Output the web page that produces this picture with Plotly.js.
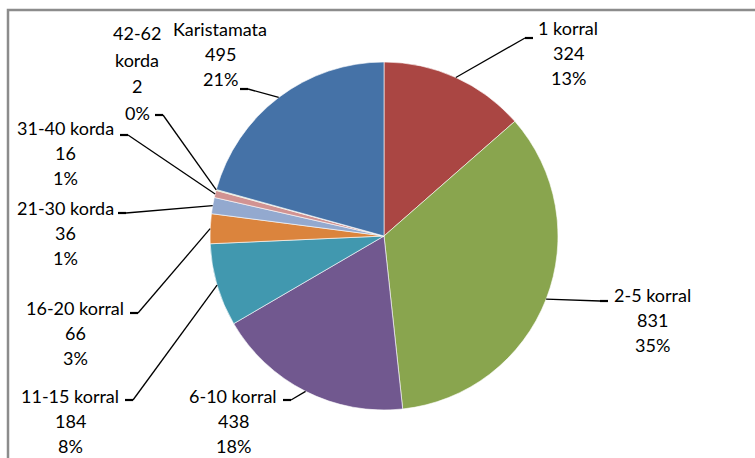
<!DOCTYPE html>
<html>
<head>
<meta charset="utf-8">
<script src="https://cdn.plot.ly/plotly-3.0.1.min.js"></script>
<style>
  html, body { margin: 0; padding: 0; background: #ffffff; }
  #chart { width: 755px; height: 458px; }
</style>
</head>
<body>
<div id="chart"></div>
<script>
// ---- data ----
const labels = ['1 korral', '2-5 korral', '6-10 korral', '11-15 korral', '16-20 korral', '21-30 korda', '31-40 korda', '42-62 korda', 'Karistamata'];
const values = [324, 831, 438, 184, 66, 36, 16, 2, 495];
const percents = ['13%', '35%', '18%', '8%', '3%', '1%', '1%', '0%', '21%'];
const colors = ['#AA4643', '#89A54E', '#71588F', '#4198AF', '#DB843D', '#93A9CF', '#D19392', '#B9CD96', '#4572A7'];

// ---- layout constants (pixels) ----
const W = 755, H = 458;
const CX = 384, CY = 236, R = 174;
const FONT = 'Lato, "Open Sans", sans-serif';
const FS = 18, LINE = 25;

// label text block: x = centre of text, y = centre of first line; lx,ly = leader start
const labelPos = [
  {x: 568, y: 28,  lx: 533, ly: 38,  wrap: false},
  {x: 652, y: 295, lx: 608, ly: 301, wrap: false},
  {x: 233, y: 396, lx: 283, ly: 400, wrap: false},
  {x: 70,  y: 396, lx: 125, ly: 400, wrap: false},
  {x: 75,  y: 308, lx: 130, ly: 313, wrap: false},
  {x: 65,  y: 208, lx: 118, ly: 213, wrap: false},
  {x: 65,  y: 128, lx: 120, ly: 135, wrap: false},
  {x: 137, y: 33,  lx: 155, ly: 115, wrap: true},
  {x: 220, y: 29,  lx: 240, ly: 89,  wrap: false}
];

const px = x => x / W;
const py = y => 1 - y / H;

const total = values.reduce((a, b) => a + b, 0);

const annotations = [];
const shapes = [];

// frame
shapes.push({type: 'rect', xref: 'paper', yref: 'paper', x0: px(8), x1: px(762), y0: py(470), y1: py(10),
  line: {color: '#8c8c8c', width: 2.5}, fillcolor: 'rgba(0,0,0,0)', layer: 'below'});

let cum = 0;
labels.forEach((name, i) => {
  const mid = (cum + values[i] / 2) / total * 2 * Math.PI;
  cum += values[i];
  const ex = CX + R * Math.sin(mid);
  const ey = CY - R * Math.cos(mid);
  const p = labelPos[i];
  const lines = p.wrap ? name.split(' ').concat([String(values[i]), percents[i]])
                       : [name, String(values[i]), percents[i]];
  lines.forEach((t, k) => {
    annotations.push({
      xref: 'paper', yref: 'paper', x: px(p.x), y: py(p.y + k * (p.wrap ? 26.5 : LINE)),
      text: t, showarrow: false, xanchor: 'center', yanchor: 'middle',
      font: {family: FONT, size: FS, color: '#000000'}
    });
  });
  const dir = ex > p.lx ? 1 : -1;
  const sx = p.lx + dir * 8;
  shapes.push({type: 'line', xref: 'paper', yref: 'paper', x0: px(p.lx), y0: py(p.ly), x1: px(sx), y1: py(p.ly),
    line: {color: '#000000', width: 2.2}});
  shapes.push({type: 'line', xref: 'paper', yref: 'paper', x0: px(sx), y0: py(p.ly), x1: px(ex), y1: py(ey),
    line: {color: '#000000', width: 1.3}});
});

const trace = {
  type: 'pie',
  labels: labels,
  values: values,
  sort: false,
  direction: 'clockwise',
  rotation: 0,
  textinfo: 'none',
  hoverinfo: 'label+value+percent',
  marker: {colors: colors, line: {color: '#ffffff', width: 0.6}},
  domain: {x: [px(CX - R), px(CX + R)], y: [py(CY + R), py(CY - R)]},
  showlegend: false
};

const layout = {
  width: W, height: H,
  margin: {l: 0, r: 0, t: 0, b: 0},
  paper_bgcolor: '#ffffff',
  showlegend: false,
  annotations: annotations,
  shapes: shapes
};

Plotly.newPlot('chart', [trace], layout, {displayModeBar: false, staticPlot: true});
</script>
</body>
</html>
